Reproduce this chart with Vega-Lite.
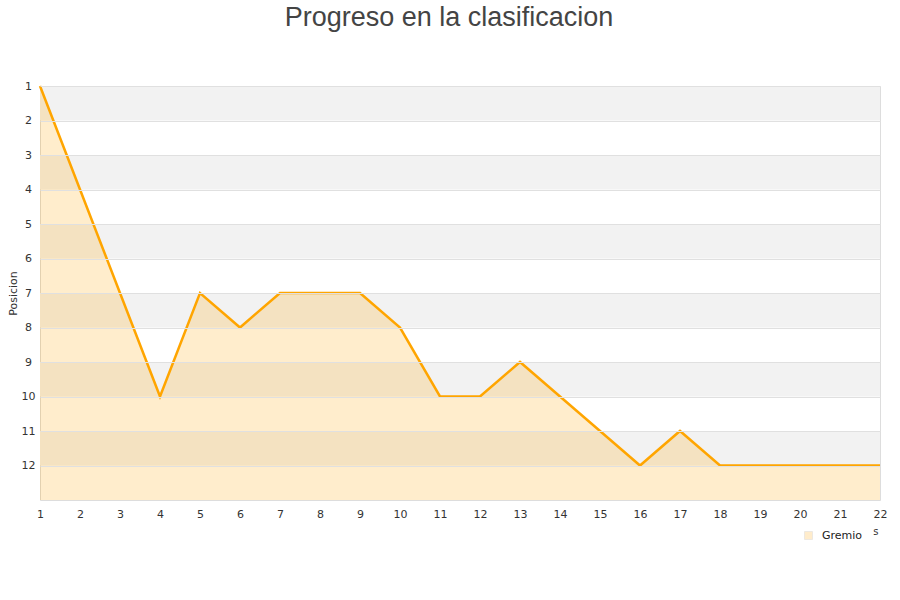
{
  "$schema": "https://vega.github.io/schema/vega-lite/v6.json",
  "width": 840,
  "height": 414,
  "autosize": "none",
  "padding": {"left": 40, "top": 86, "right": 20, "bottom": 100},
  "background": "white",
  "title": {
    "text": "Progreso en la clasificacion",
    "font": "Liberation Sans",
    "fontSize": 27,
    "fontWeight": "normal",
    "color": "#444444",
    "anchor": "middle",
    "dx": -11,
    "offset": 48
  },
  "config": {
    "view": {"stroke": "#dddddd", "strokeWidth": 1},
    "axis": {
      "labelFont": "DejaVu Sans",
      "labelFontSize": 11,
      "labelColor": "#333333",
      "labelOverlap": false,
      "titleFont": "DejaVu Sans",
      "titleFontWeight": "normal",
      "titleColor": "#333333"
    }
  },
  "datasets": {
    "bands": [
      {"from": 1, "to": 2},
      {"from": 3, "to": 4},
      {"from": 5, "to": 6},
      {"from": 7, "to": 8},
      {"from": 9, "to": 10},
      {"from": 11, "to": 12}
    ],
    "progress": [
      {"jornada": 1, "posicion": 1, "equipo": "Gremio"},
      {"jornada": 2, "posicion": 4, "equipo": "Gremio"},
      {"jornada": 3, "posicion": 7, "equipo": "Gremio"},
      {"jornada": 4, "posicion": 10, "equipo": "Gremio"},
      {"jornada": 5, "posicion": 7, "equipo": "Gremio"},
      {"jornada": 6, "posicion": 8, "equipo": "Gremio"},
      {"jornada": 7, "posicion": 7, "equipo": "Gremio"},
      {"jornada": 8, "posicion": 7, "equipo": "Gremio"},
      {"jornada": 9, "posicion": 7, "equipo": "Gremio"},
      {"jornada": 10, "posicion": 8, "equipo": "Gremio"},
      {"jornada": 11, "posicion": 10, "equipo": "Gremio"},
      {"jornada": 12, "posicion": 10, "equipo": "Gremio"},
      {"jornada": 13, "posicion": 9, "equipo": "Gremio"},
      {"jornada": 14, "posicion": 10, "equipo": "Gremio"},
      {"jornada": 15, "posicion": 11, "equipo": "Gremio"},
      {"jornada": 16, "posicion": 12, "equipo": "Gremio"},
      {"jornada": 17, "posicion": 11, "equipo": "Gremio"},
      {"jornada": 18, "posicion": 12, "equipo": "Gremio"},
      {"jornada": 19, "posicion": 12, "equipo": "Gremio"},
      {"jornada": 20, "posicion": 12, "equipo": "Gremio"},
      {"jornada": 21, "posicion": 12, "equipo": "Gremio"},
      {"jornada": 22, "posicion": 12, "equipo": "Gremio"}
    ]
  },
  "resolve": {"scale": {"y": "shared", "x": "shared"}},
  "layer": [
    {
      "data": {"name": "bands"},
      "mark": {"type": "rect", "fill": "#f2f2f2"},
      "encoding": {
        "y": {
          "field": "from",
          "type": "quantitative",
          "scale": {"domain": [1, 13], "reverse": true, "nice": false, "zero": false},
          "axis": {
            "values": [1, 2, 3, 4, 5, 6, 7, 8, 9, 10, 11, 12],
            "tickCount": 40,
            "format": "d",
            "labelOverlap": false,
            "title": "Posicion",
            "titleFontSize": 11,
            "titlePadding": 3,
            "domain": false,
            "ticks": false,
            "labelPadding": 12,
            "labelAlign": "center",
            "grid": true,
            "gridColor": "#e0e0e0",
            "gridWidth": 1,
            "zindex": 1
          }
        },
        "y2": {"field": "to"}
      }
    },
    {
      "data": {"name": "progress"},
      "mark": {"type": "area", "opacity": 0.2, "interpolate": "linear"},
      "encoding": {
        "x": {
          "field": "jornada",
          "type": "quantitative",
          "scale": {"domain": [1, 22], "nice": false, "zero": false},
          "axis": {
            "values": [1, 2, 3, 4, 5, 6, 7, 8, 9, 10, 11, 12, 13, 14, 15, 16, 17, 18, 19, 20, 21, 22],
            "tickCount": 40,
            "format": "d",
            "labelOverlap": false,
            "title": "s",
            "titleFontSize": 10,
            "titleAnchor": "end",
            "titleAlign": "right",
            "titleX": 838,
            "titleY": 26,
            "grid": false,
            "domain": false,
            "ticks": false,
            "labelPadding": 8,
            "labelFlush": false
          }
        },
        "y": {"field": "posicion", "type": "quantitative"},
        "y2": {"datum": 13},
        "color": {
          "field": "equipo",
          "type": "nominal",
          "scale": {"domain": ["Gremio"], "range": ["#ffa500"]},
          "legend": {
            "orient": "none",
            "legendX": 763,
            "legendY": 444,
            "title": null,
            "symbolType": "square",
            "symbolSize": 64,
            "symbolStrokeColor": "#a89070",
            "symbolStrokeWidth": 1,
            "labelFont": "DejaVu Sans",
            "labelFontSize": 11,
            "labelColor": "#222222",
            "labelOffset": 8,
            "encode": {
              "symbols": {
                "update": {
                  "fill": {"value": "#ffe6b8"},
                  "stroke": {"value": "#a89070"},
                  "strokeWidth": {"value": 1},
                  "opacity": {"value": 1},
                  "fillOpacity": {"value": 1},
                  "strokeOpacity": {"value": 1}
                }
              }
            }
          }
        }
      }
    },
    {
      "data": {"name": "progress"},
      "mark": {"type": "line", "color": "#ffa500", "strokeWidth": 2.5},
      "encoding": {
        "x": {"field": "jornada", "type": "quantitative"},
        "y": {"field": "posicion", "type": "quantitative"}
      }
    }
  ]
}
